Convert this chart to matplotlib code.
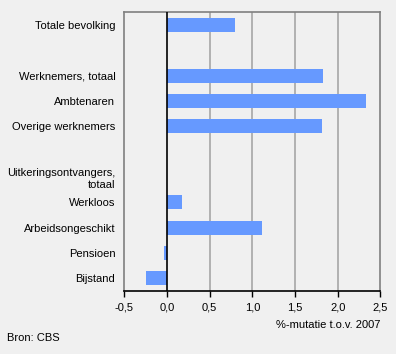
import matplotlib
matplotlib.use("Agg")
import matplotlib.pyplot as plt

# categories from top to bottom; '' are empty spacer rows
categories = ["Totale bevolking", "", "Werknemers, totaal", "Ambtenaren",
              "Overige werknemers", "", "Uitkeringsontvangers,\ntotaal",
              "Werkloos", "Arbeidsongeschikt", "Pensioen", "Bijstand"]
values = [0.80, None, 1.83, 2.33, 1.82, None, None, 0.18, 1.11, -0.04, -0.24]
xticks = [-0.5, 0.0, 0.5, 1.0, 1.5, 2.0, 2.5]
xticklabels = ["-0,5", "0,0", "0,5", "1,0", "1,5", "2,0", "2,5"]

plt.rcParams['font.family'] = ['Liberation Sans', 'DejaVu Sans']
bg = '#f0f0f0'
fs = 8

fig = plt.figure(figsize=(3.96, 3.54), dpi=100, facecolor=bg)
ax = fig.add_axes([124.3 / 396, 1 - 291 / 354, 256 / 396, 278.7 / 354])
ax.set_facecolor(bg)

ypos = list(range(len(categories)))
for y, v in zip(ypos, values):
    if v is not None:
        ax.barh(y, v, height=0.55, color='#6699ff', zorder=3)

ax.set_xlim(-0.5, 2.5)
ax.set_ylim(len(categories) - 0.5, -0.5)

for x in xticks[2:-1]:
    ax.axvline(x, color='#a6a6a6', lw=1.2, zorder=1)
ax.axvline(0, color='black', lw=1.2, zorder=4)

ax.set_xticks(xticks)
ax.set_xticklabels(xticklabels, fontsize=fs)
ax.tick_params(axis='x', direction='out', length=4, width=1, color='black', pad=4)
ax.set_yticks(ypos)
ax.set_yticklabels(categories, fontsize=fs, linespacing=1.3)
ax.tick_params(axis='y', length=0, pad=6.5)

for s in ['top', 'right', 'left']:
    ax.spines[s].set_color('#808080')
    ax.spines[s].set_linewidth(1.2)
ax.spines['bottom'].set_color('black')
ax.spines['bottom'].set_linewidth(1.2)

fig.text(380 / 396, 1 - 325 / 354, "%-mutatie t.o.v. 2007", ha='right', va='center', fontsize=fs)
fig.text(7 / 396, 1 - 338 / 354, "Bron: CBS", ha='left', va='center', fontsize=fs)

fig.savefig("out.png", dpi=100, facecolor=bg)
